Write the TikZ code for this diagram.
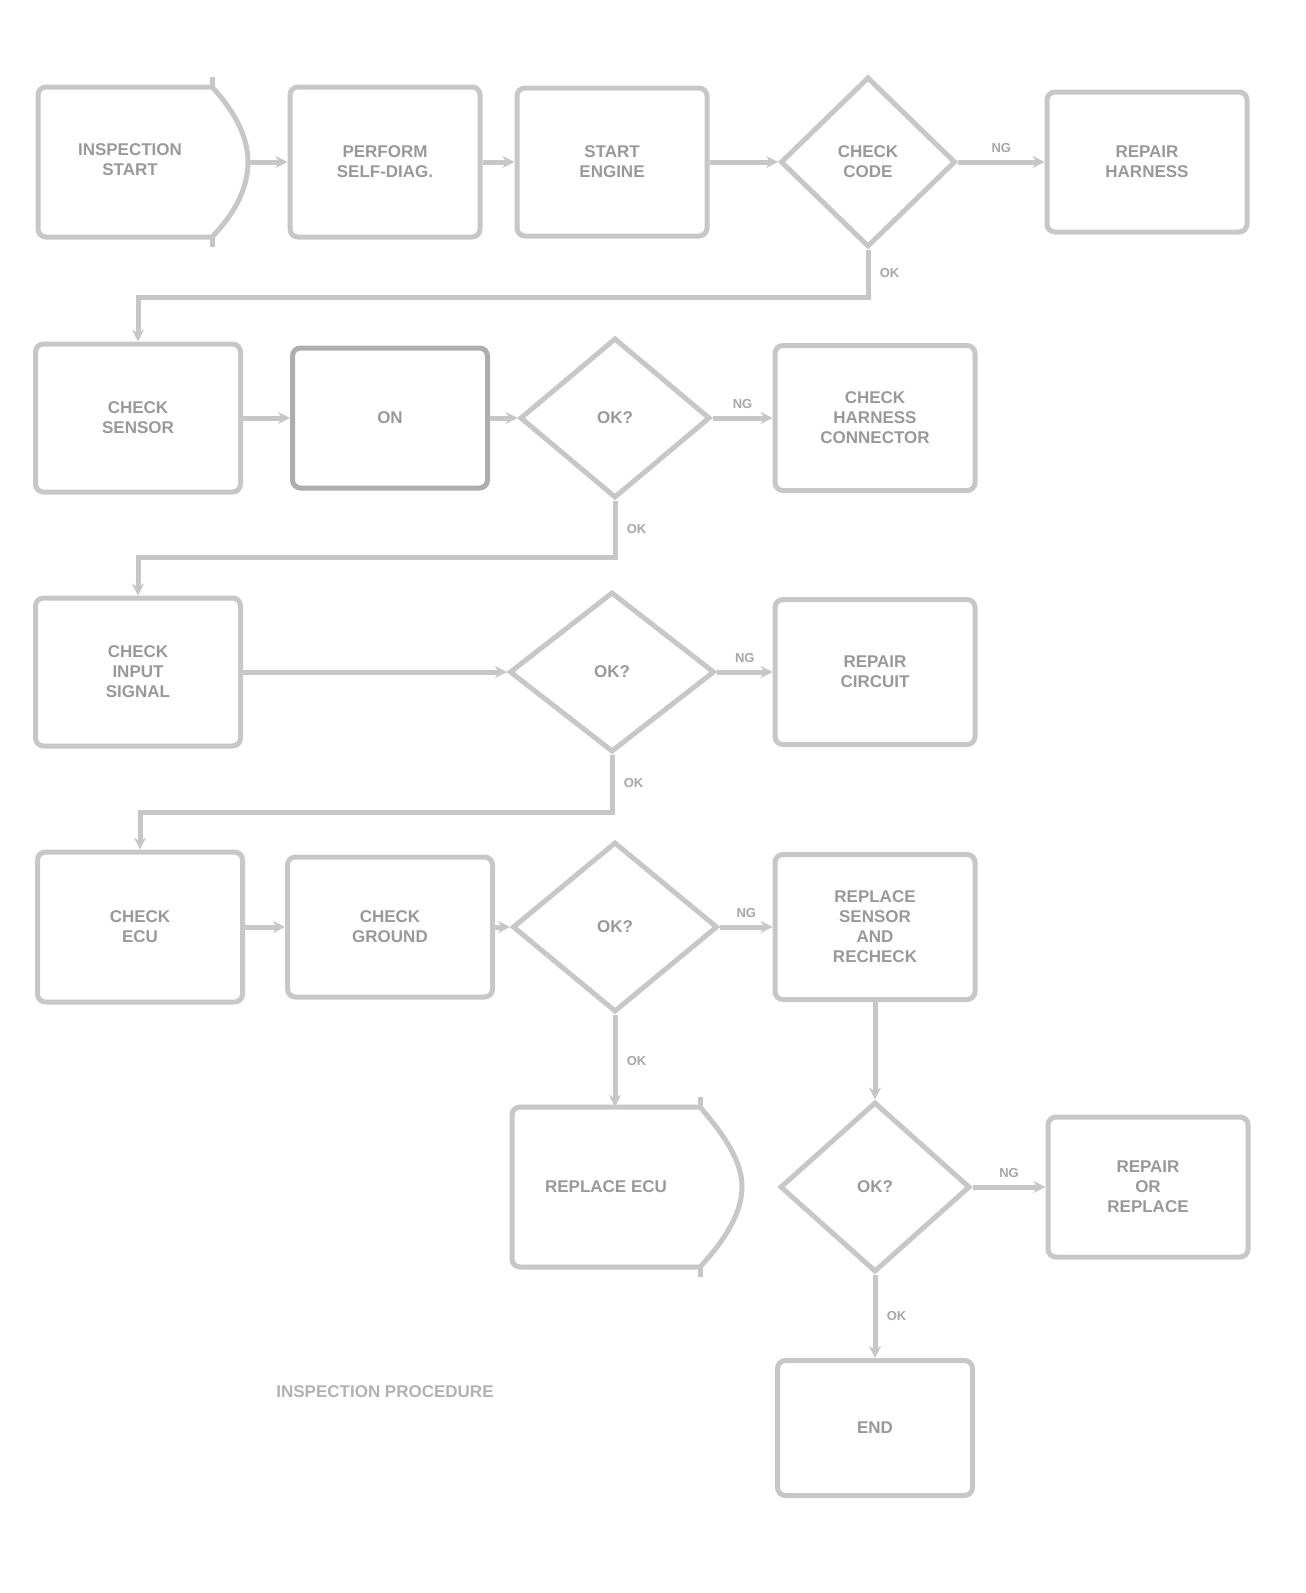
\documentclass[tikz,border=0pt]{standalone}
\usepackage{fontspec}
\setsansfont{Liberation Sans}
\usetikzlibrary{shapes.geometric,arrows.meta}
\begin{document}
\begin{tikzpicture}[x=1pt,y=-1pt,
  ln/.style={draw=black!22,line width=5pt},
  txt/.style={font=\sffamily\bfseries\fontsize{17}{20}\selectfont,text=black!40,align=center},
  box/.style={ln,rounded corners=8pt,txt,inner sep=2pt},
  heavybox/.style={box,draw=black!32},
  dia/.style={diamond,ln,txt,inner sep=0pt},
  lab/.style={font=\sffamily\bfseries\fontsize{13}{15}\selectfont,text=black!35},
  arr/.style={ln,-{Stealth[length=12pt,width=12pt]}}]
\useasboundingbox (0,0) rectangle (1306,1593);
% row 1
\node[txt] (A) at (130,160) {INSPECTION\\START};
\draw[ln,rounded corners=8pt] (212,87) -- (38,87) -- (38,237) -- (212,237);
\draw[ln] (212,87) .. controls (238,115) and (248,140) .. (248,162) .. controls (248,185) and (238,210) .. (212,237);
\draw[ln] (212,77) -- (212,87);
\draw[ln] (212,237) -- (212,247);
\coordinate (Ae) at (248,162);
\node[box,minimum width=190pt,minimum height=150pt] (B) at (385,162) {PERFORM\\SELF-DIAG.};
\node[box,minimum width=190pt,minimum height=148pt] (C) at (612,162) {START\\ENGINE};
\node[dia,minimum width=175pt,minimum height=170pt] (D) at (868,162) {CHECK\\CODE};
\node[box,minimum width=200pt,minimum height=140pt] (F) at (1147,162) {REPAIR\\HARNESS};
% row 2
\node[box,minimum width=205pt,minimum height=148pt] (E) at (138,418) {CHECK\\SENSOR};
\node[heavybox,minimum width=195pt,minimum height=140pt] (G) at (390,418) {ON};
\node[dia,minimum width=190pt,minimum height=160pt] (H) at (615,418) {OK?};
\node[box,minimum width=200pt,minimum height=145pt] (I) at (875,418) {CHECK\\HARNESS\\CONNECTOR};
% row 3
\node[box,minimum width=205pt,minimum height=148pt] (J) at (138,672) {CHECK\\INPUT\\SIGNAL};
\node[dia,minimum width=205pt,minimum height=160pt] (K) at (612,672) {OK?};
\node[box,minimum width=200pt,minimum height=145pt] (L) at (875,672) {REPAIR\\CIRCUIT};
% row 4
\node[box,minimum width=205pt,minimum height=150pt] (M) at (140,927) {CHECK\\ECU};
\node[box,minimum width=205pt,minimum height=140pt] (N) at (390,927) {CHECK\\GROUND};
\node[dia,minimum width=205pt,minimum height=170pt] (O) at (615,927) {OK?};
\node[box,minimum width=200pt,minimum height=145pt] (P) at (875,927) {REPLACE\\SENSOR\\AND\\RECHECK};
% row 5
\node[txt,minimum width=188pt,minimum height=160pt] (Q) at (606,1187) {REPLACE ECU};
\draw[ln,rounded corners=8pt] (700,1107) -- (512,1107) -- (512,1267) -- (700,1267);
\draw[ln] (700,1107) .. controls (726,1137) and (742,1162) .. (742,1187) .. controls (742,1212) and (726,1239) .. (700,1267);
\draw[ln] (700,1097) -- (700,1107);
\draw[ln] (700,1267) -- (700,1277);
\node[dia,minimum width=190pt,minimum height=170pt] (R) at (875,1187) {OK?};
\node[box,minimum width=200pt,minimum height=140pt] (S) at (1148,1187) {REPAIR\\OR\\REPLACE};
\node[box,minimum width=195pt,minimum height=135pt] (T) at (875,1428) {END};
\node[txt,text=black!30] (cap) at (385,1392) {INSPECTION PROCEDURE};
% connectors
\draw[arr] (Ae) -- (B.west);
\draw[arr] (B) -- (C);
\draw[arr] (C) -- (D);
\draw[arr] (D) -- node[lab,above=4pt]{NG} (F);
\draw[arr] (D.south) -- ++(0,48) node[lab,right=6pt,pos=0.5]{OK} -| (E.north);
\draw[arr] (E) -- (G);
\draw[arr] (G) -- (H);
\draw[arr] (H) -- node[lab,above=4pt]{NG} (I);
\draw[arr] (H.south) -- ++(0,57) node[lab,right=6pt,pos=0.5]{OK} -| (J.north);
\draw[arr] (J) -- (K);
\draw[arr] (K) -- node[lab,above=4pt]{NG} (L);
\draw[arr] (K.south) -- ++(0,58) node[lab,right=6pt,pos=0.5]{OK} -| (M.north);
\draw[arr] (M) -- (N);
\draw[arr] (N) -- (O);
\draw[arr] (O) -- node[lab,above=4pt]{NG} (P);
\draw[arr] (O.south) -- node[lab,right=6pt]{OK} (O.south |- Q.north);
\draw[arr] (P) -- (R);
\draw[arr] (R) -- node[lab,above=4pt]{NG} (S);
\draw[arr] (R) -- node[lab,right=6pt]{OK} (T);
\end{tikzpicture}
\end{document}
